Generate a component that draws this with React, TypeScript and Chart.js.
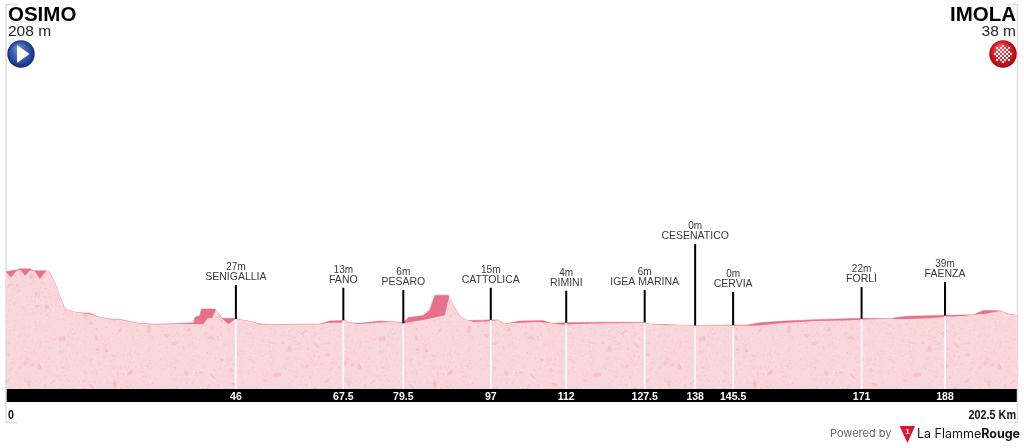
import React, { useEffect, useRef } from "react";
import { Chart, registerables } from "chart.js";

Chart.register(...registerables);

const startName = "OSIMO";
const startAlt = "208 m";
const finishName = "IMOLA";
const finishAlt = "38 m";
const totalLabel = "202.5 Km";
const totalKm = 202.5;

const profileKm = [0,2.1,2.8,4.8,5.5,8.1,8.8,9.8,10.8,11.8,14.1,16.8,18.8,20.8,23.1,26.8,30.1,34.1,37.5,37.8,38.8,39.1,41.8,42.8,43.3,45.5,46.1,48.5,50.8,52.8,57.5,62.8,64.8,67.1,67.8,68.8,70.8,74.8,78.8,79.3,80.5,83.5,84.8,85.8,88.5,89.5,90.8,92.5,96.8,98.5,99.8,102.8,107.5,109.1,112.1,118.8,126.8,128.8,134.1,137.8,145.5,148.1,150.8,155.6,161.6,170.9,176.9,180.3,187.9,193.6,195.6,198.9,200.6,202.5];
const profileM = [233,240,245,245,237,237,229,182,124,69,54,51,34,26,23,6,3,6,9,32,42,70,70,44,29,29,26,17,5,1,3,4,17,19,22,9,7,17,12,7,32,41,66,130,130,87,36,19,22,22,4,17,19,7,10,12,12,4,0,-3,0,-1,10,17,23,29,28,38,42,44,64,62,48,41];

const surfaceKm = [0,1,2.1,2.9,3.8,4.9,5.8,6.8,8,8.5,8.8,9.8,10.8,11.8,14.1,16.8,18.8,20.8,23.1,26.8,30.1,34.1,37.5,39.5,40.3,41.2,42,42.8,43.3,44.5,45.5,46,48.5,50.8,52.8,57.5,62.8,64.5,67.1,67.5,67.8,68.8,70.8,74.1,77.1,78.8,79.3,80.5,83.5,85.5,87.8,88.7,89.5,90.8,92.5,93.5,96.8,98.5,99.8,100.8,102.8,106.8,109.1,111.5,112.1,118.8,126.8,128.8,132.1,134.1,137.8,145.5,147.8,150.8,154.8,161.6,167.6,170.9,176.9,178.3,184.9,187.9,191.6,193.6,196,198.9,200.6,202.5];
const surfaceM = [230,207,237,240,215,240,233,201,236,235,229,182,124,69,54,47,34,25,22,5,2,4,4,3,29,29,66,44,26,4,19,26,17,3,0,2,3,9,10,19,22,8,4,10,13,11,4,12,22,31,42,124,87,36,19,13,16,22,3,7,9,13,7,1,3,6,9,4,-1,0,-3,-3,-4,-3,7,17,19,23,28,25,29,36,39,44,49,61,48,41];

const townNames = ["SENIGALLIA","FANO","PESARO","CATTOLICA","RIMINI","IGEA MARINA","CESENATICO","CERVIA","FORLÌ","FAENZA"];
const townAlts = ["27m","13m","6m","15m","4m","6m","0m","0m","22m","39m"];
const townLabels = ["46","67.5","79.5","97","112","127.5","138","145.5","171","188"];
const townKm = [46,67.5,79.5,97,112.1,127.8,137.9,145.5,171.2,187.9];
const townBaseM = [26,20,7,21,9,11,-2,-1,27,40];
const townTopM = [175,162,153,162,149,153,354,144,166,188];

const SANS = '"Liberation Sans", Arial, sans-serif';

function makeTexture(ctx: CanvasRenderingContext2D) {
  const size = 320;
  const c = document.createElement("canvas");
  c.width = size;
  c.height = size;
  const g = c.getContext("2d")!;
  g.fillStyle = "#f8d6da";
  g.fillRect(0, 0, size, size);
  let s = 12345;
  const next = () => {
    s = (s * 1103515245 + 12345) & 0x7fffffff;
    return s / 0x7fffffff;
  };
  for (let i = 0; i < 9000; i++) {
    g.fillStyle = next() > 0.5 ? "rgba(250,232,234,0.55)" : "rgba(241,178,188,0.35)";
    g.fillRect(next() * size, next() * size, 1.2, 1.2);
  }
  for (let i = 0; i < 170; i++) {
    g.fillStyle = "rgba(240,165,178,0.35)";
    const x = next() * size;
    const y = next() * size;
    g.beginPath();
    g.ellipse(x, y, 1 + next() * 3.2, 0.8 + next() * 1.8, next() * 3, 0, 6.3);
    g.fill();
  }
  return ctx.createPattern(c, "repeat")!;
}

function condensedText(ctx: CanvasRenderingContext2D, text: string, x: number, y: number, squeeze: number) {
  ctx.save();
  ctx.translate(x, y);
  ctx.scale(squeeze, 1);
  ctx.fillText(text, 0, 0);
  ctx.restore();
}

const decorations = {
  id: "decorations",
  beforeDraw(chart: any) {
    const { ctx, chartArea } = chart;
    ctx.save();
    ctx.fillStyle = "#000";
    ctx.fillRect(chartArea.left, chartArea.bottom, 1017 - chartArea.left, 13);
    ctx.strokeStyle = "#dedede";
    ctx.lineWidth = 1.5;
    ctx.beginPath();
    ctx.moveTo(18, 4.5);
    ctx.lineTo(6, 4.5);
    ctx.lineTo(6, 422.5);
    ctx.lineTo(18, 422.5);
    ctx.moveTo(1006, 4.5);
    ctx.lineTo(1017.5, 4.5);
    ctx.lineTo(1017.5, 422.5);
    ctx.lineTo(1006, 422.5);
    ctx.stroke();
    ctx.restore();
  },
  afterDraw(chart: any) {
    const { ctx, scales } = chart;
    const x = scales.x;
    const y = scales.y;
    ctx.save();
    ctx.textBaseline = "middle";

    ctx.fillStyle = "#000";
    ctx.textAlign = "left";
    ctx.font = `bold 20.5px ${SANS}`;
    ctx.fillText(startName, 8, 15);
    ctx.font = `15.5px ${SANS}`;
    ctx.fillStyle = "#222";
    ctx.fillText(startAlt, 8, 32);
    ctx.textAlign = "right";
    ctx.fillStyle = "#000";
    ctx.font = `bold 20.5px ${SANS}`;
    ctx.fillText(finishName, 1016, 15);
    ctx.font = `15.5px ${SANS}`;
    ctx.fillStyle = "#222";
    ctx.fillText(finishAlt, 1016, 32);

    // start icon
    const blue = ctx.createRadialGradient(18, 48, 2, 21, 54, 14);
    blue.addColorStop(0, "#5f86cf");
    blue.addColorStop(0.75, "#23479c");
    blue.addColorStop(1, "#13296b");
    ctx.fillStyle = blue;
    ctx.beginPath();
    ctx.arc(21, 54, 13.7, 0, Math.PI * 2);
    ctx.fill();
    ctx.fillStyle = "#fff";
    ctx.beginPath();
    ctx.moveTo(17, 45);
    ctx.lineTo(29.5, 54);
    ctx.lineTo(17, 63);
    ctx.closePath();
    ctx.fill();

    // finish icon
    const red = ctx.createRadialGradient(1000, 47, 2, 1003, 54, 14);
    red.addColorStop(0, "#f0505a");
    red.addColorStop(0.75, "#d0101e");
    red.addColorStop(1, "#8f0a12");
    ctx.fillStyle = red;
    ctx.beginPath();
    ctx.arc(1003, 54, 13.7, 0, Math.PI * 2);
    ctx.fill();
    ctx.fillStyle = "#fff";
    for (let r = -4; r <= 4; r++) {
      for (let c = -4; c <= 4; c++) {
        if ((r + c) % 2 !== 0 || r * r + c * c > 18) continue;
        ctx.fillRect(1003 + c * 2 - 1, 54 + r * 2 - 1, 2, 2);
      }
    }

    // towns
    ctx.textAlign = "center";
    townNames.forEach((name, i) => {
      const px = x.getPixelForValue(townKm[i]);
      const top = y.getPixelForValue(townTopM[i]);
      ctx.fillStyle = "#3a3a3a";
      ctx.font = `10.5px ${SANS}`;
      ctx.fillText(name, px, top - 7.5);
      ctx.font = `10px ${SANS}`;
      ctx.fillText(townAlts[i], px, top - 18);
    });

    // ends of the axis
    ctx.fillStyle = "#111";
    ctx.font = `bold 13.5px ${SANS}`;
    ctx.textAlign = "left";
    condensedText(ctx, "0", x.getPixelForValue(0) + 2, 415, 0.8);
    ctx.textAlign = "right";
    condensedText(ctx, totalLabel, 1016, 415, 0.8);

    // credit
    ctx.fillStyle = "#666";
    ctx.font = `11px Inter, ${SANS}`;
    ctx.textAlign = "left";
    ctx.fillText("Powered by", 830, 434);
    ctx.fillStyle = "#e1122f";
    ctx.beginPath();
    ctx.moveTo(899.5, 426);
    ctx.lineTo(915, 426);
    ctx.lineTo(907.5, 443);
    ctx.closePath();
    ctx.fill();
    ctx.fillStyle = "#fff";
    ctx.font = `bold 8px ${SANS}`;
    ctx.textAlign = "center";
    ctx.fillText("1", 907.5, 432);
    ctx.textAlign = "left";
    ctx.fillStyle = "#111";
    ctx.font = `12.5px Inter, ${SANS}`;
    const w = ctx.measureText("La Flamme").width;
    ctx.fillText("La Flamme", 917, 434);
    ctx.font = `bold 12.5px Inter, ${SANS}`;
    ctx.fillText("Rouge", 917 + w, 434);
    ctx.restore();
  },
};

export default function App() {
  const ref = useRef<HTMLCanvasElement>(null);
  useEffect(() => {
    const canvas = ref.current!;
    const ctx = canvas.getContext("2d")!;
    const toPoints = (xs: number[], ys: number[]) => xs.map((v, i) => ({ x: v, y: ys[i] }));
    const whiteStems = townKm.flatMap((k, i) => [
      { x: k, y: -280 },
      { x: k, y: townBaseM[i] },
      { x: k, y: NaN },
    ]);
    const blackStems = townKm.flatMap((k, i) => [
      { x: k, y: townBaseM[i] },
      { x: k, y: townTopM[i] },
      { x: k, y: NaN },
    ]);
    const line = { pointRadius: 0, tension: 0 };
    const chart = new Chart(canvas, {
      type: "line",
      data: {
        datasets: [
          { label: "profile", data: toPoints(profileKm, profileM), ...line, borderWidth: 0.5, borderColor: "#e8708a", backgroundColor: "#e8708a", fill: "start", order: 4 },
          { label: "surface", data: toPoints(surfaceKm, surfaceM), ...line, borderWidth: 0, backgroundColor: makeTexture(ctx), fill: "start", order: 3 },
          { label: "white stems", data: whiteStems, ...line, borderWidth: 1.6, borderColor: "#fff", fill: false, spanGaps: false, order: 2 },
          { label: "black stems", data: blackStems, ...line, borderWidth: 2, borderColor: "#000", fill: false, spanGaps: false, order: 1 },
        ] as any,
      },
      options: {
        responsive: false,
        animation: false,
        layout: { padding: { left: 6, right: 6, top: 0, bottom: 0 } },
        plugins: { legend: { display: false }, tooltip: { enabled: false } },
        scales: {
          x: {
            type: "linear",
            min: 0,
            max: totalKm,
            grid: { display: false, drawTicks: false },
            border: { display: false },
            afterBuildTicks: (axis: any) => {
              axis.ticks = townKm.map((v) => ({ value: v }));
            },
            afterFit: (axis: any) => {
              axis.height = 59;
            },
            ticks: {
              autoSkip: false,
              maxRotation: 0,
              padding: 2,
              color: "#fff",
              font: { family: SANS, size: 10.5, weight: "bold" },
              callback: (v: any) => townLabels[townKm.indexOf(v)],
            },
          },
          y: { type: "linear", min: -280, max: 1420, display: false },
        },
      } as any,
      plugins: [decorations],
    });
    return () => chart.destroy();
  }, []);
  return (
    <div style={{ position: "absolute", left: 0, top: 0, width: 1024, height: 448, background: "#fff" }}>
      <canvas ref={ref} width={1024} height={448} style={{ display: "block" }} />
    </div>
  );
}
